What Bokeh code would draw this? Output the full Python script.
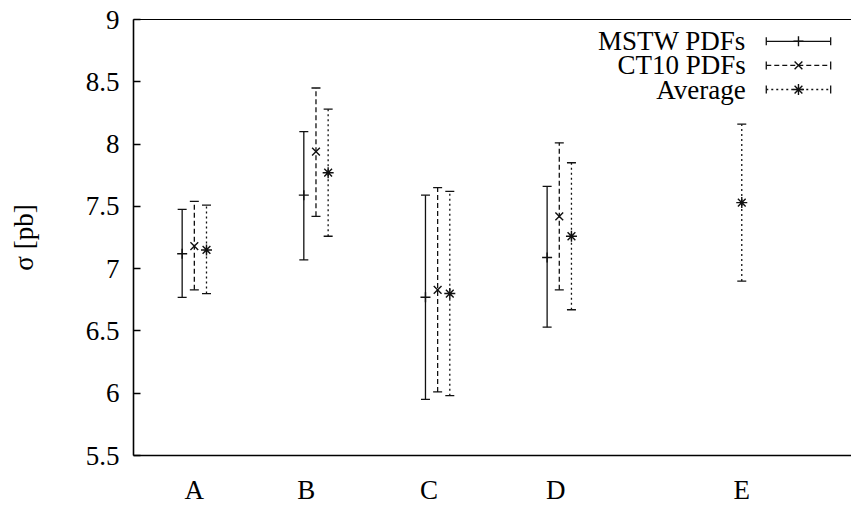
import numpy as np
from bokeh.plotting import figure
from bokeh.models import FixedTicker, LinearAxis, Range1d
from bokeh.core.properties import value
from bokeh.embed import file_html
from bokeh.resources import INLINE

# ---------------- data ----------------
categories = ["A", "B", "C", "D", "E"]
category_pos = [1.0, 1.92, 2.93, 3.97, 5.5]

mstw_x = [0.9, 1.9, 2.9, 3.9]
mstw_val = [7.12, 7.59, 6.77, 7.09]
mstw_lo = [6.77, 7.07, 5.95, 6.53]
mstw_hi = [7.475, 8.10, 7.59, 7.66]

ct10_x = [1.0, 2.0, 3.0, 4.0]
ct10_val = [7.18, 7.94, 6.83, 7.42]
ct10_lo = [6.83, 7.42, 6.01, 6.83]
ct10_hi = [7.54, 8.45, 7.65, 8.01]

avg_x = [1.1, 2.1, 3.1, 4.1, 5.5]
avg_val = [7.15, 7.77, 6.80, 7.26, 7.53]
avg_lo = [6.80, 7.26, 5.98, 6.67, 6.90]
avg_hi = [7.51, 8.28, 7.62, 7.85, 8.16]

y_ticks = [5.5, 6, 6.5, 7, 7.5, 8, 8.5, 9]
y_tick_labels = ["5.5", "6", "6.5", "7", "7.5", "8", "8.5", "9"]

series_names = ["MSTW PDFs", "CT10 PDFs", "Average"]

# ---------------- style ----------------
FONT = "Liberation Serif"
FS = "27px"
X0, X1 = 0.5, 6.402
Y0, Y1 = 5.5, 9.0

p = figure(width=851, height=507, output_backend="svg", toolbar_location=None,
           x_range=Range1d(X0, X1), y_range=Range1d(Y0, Y1),
           min_border_left=133, min_border_right=0, min_border_top=19,
           min_border_bottom=52)
p.outline_line_color = None
p.grid.visible = False
p.background_fill_color = "white"
p.border_fill_color = "white"

# y axis
ya = p.yaxis[0]
ya.ticker = FixedTicker(ticks=y_ticks)
ya.major_label_overrides = {t: l for t, l in zip(y_ticks, y_tick_labels)}
ya.major_tick_in = 7
ya.major_tick_out = 0
ya.minor_tick_line_color = None
ya.axis_line_width = 1.6
ya.major_tick_line_width = 1.3
ya.major_label_text_font = FONT
ya.major_label_text_font_size = FS
ya.major_label_text_color = "black"
ya.major_label_standoff = 14
ya.axis_label = "σ [pb]"
ya.axis_label_text_font = FONT
ya.axis_label_text_font_size = FS
ya.axis_label_text_font_style = "normal"
ya.axis_label_text_color = "black"
ya.axis_label_standoff = 44

# x axis
xa = p.xaxis[0]
xa.ticker = FixedTicker(ticks=category_pos)
xa.major_label_overrides = {t: l for t, l in zip(category_pos, categories)}
xa.major_tick_line_color = None
xa.minor_tick_line_color = None
xa.axis_line_width = 1.6
xa.major_label_text_font = FONT
xa.major_label_text_font_size = FS
xa.major_label_text_color = "black"
xa.major_label_standoff = 13

# top border
top = LinearAxis(ticker=FixedTicker(ticks=[]), axis_line_width=1.2,
                 major_tick_line_color=None, minor_tick_line_color=None,
                 major_label_text_font_size="0px")
p.add_layout(top, "above")

LC = "#111111"
series = [
    (mstw_x, mstw_val, mstw_lo, mstw_hi, "solid", "cross", 10),
    (ct10_x, ct10_val, ct10_lo, ct10_hi, "5 3", "x", 11),
    (avg_x, avg_val, avg_lo, avg_hi, "2 3", "asterisk", 11),
]
for xs, v, lo, hi, dash, marker, msize in series:
    p.segment(x0=xs, y0=lo, x1=xs, y1=hi, line_color=LC, line_width=1.3,
              line_dash=dash)
    p.scatter(x=xs + xs, y=lo + hi, marker="dash", size=9, line_color=LC,
              line_width=1.3)
    p.scatter(x=xs, y=v, marker=marker, size=msize, line_color=LC,
              line_width=1.4)

# legend (manual, glyph to the right of the text like gnuplot)
xr = X1 - X0
yr = Y1 - Y0
text_x = X0 + 0.8526 * xr
lx0 = X0 + 0.8813 * xr
lx1 = X0 + 0.9710 * xr
lxm = (lx0 + lx1) / 2
rows = [Y1 - 0.0500 * yr, Y1 - 0.1054 * yr, Y1 - 0.1606 * yr]
p.text(x=[text_x] * 3, y=rows, text=series_names, text_align="right",
       text_baseline="middle", text_font=value(FONT), text_font_size=FS,
       text_color="black")
for (xs, v, lo, hi, dash, marker, msize), ry in zip(series, rows):
    p.segment(x0=[lx0], y0=[ry], x1=[lx1], y1=[ry], line_color=LC,
              line_width=1.3, line_dash=dash)
    p.scatter(x=[lx0, lx1], y=[ry, ry], marker="dash", size=8, angle=np.pi / 2,
              line_color=LC, line_width=1.3)
    p.scatter(x=[lxm], y=[ry], marker=marker, size=msize, line_color=LC,
              line_width=1.4)

open("out.html", "w").write(file_html(p, INLINE))
